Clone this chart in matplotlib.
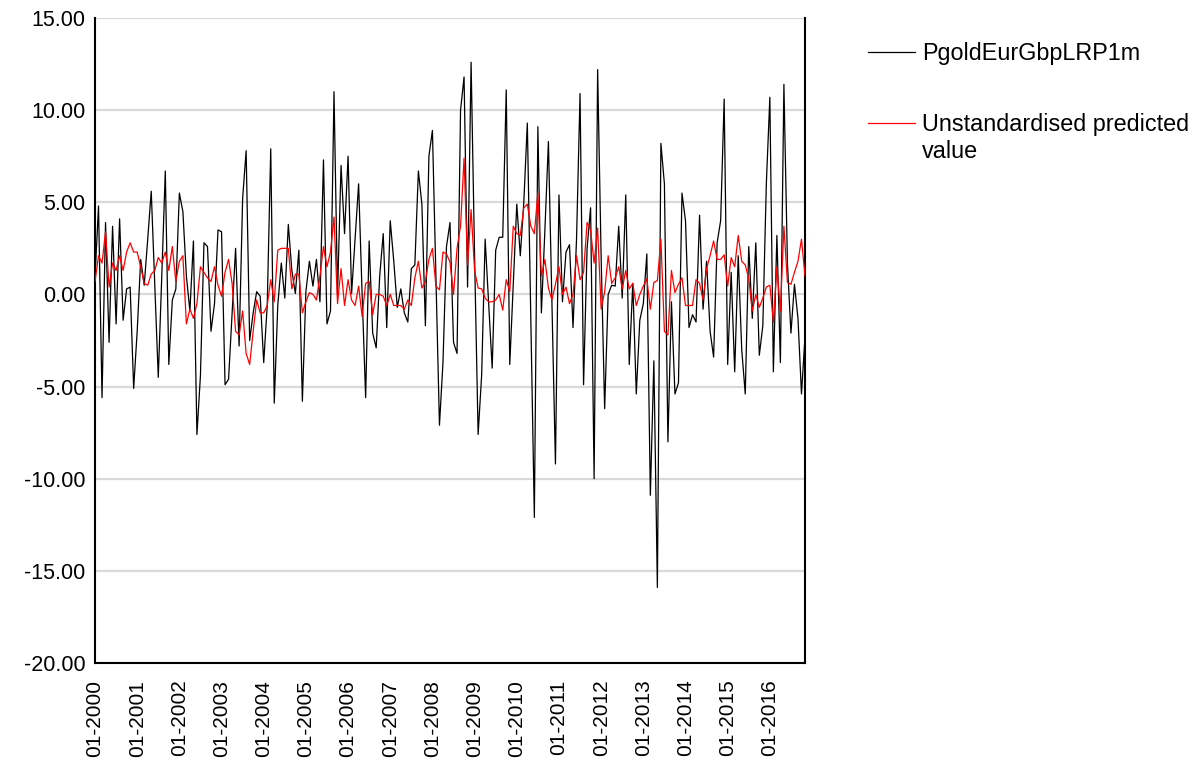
import matplotlib
matplotlib.use("Agg")
import matplotlib.pyplot as plt
from matplotlib.lines import Line2D
import numpy as np

plt.rcParams['font.family'] = ['Liberation Sans', 'DejaVu Sans']

years = list(range(2000, 2017))
tick_labels = [f"01-{y}" for y in years]

actual = [
    0.9, 4.8, -5.6, 3.9, -2.6, 3.7, -1.6, 4.1, -1.4, 0.3,
    0.4, -5.1, -2.0, 1.9, 0.5, 3.0, 5.6, 0.5, -4.5, 1.0,
    6.7, -3.8, -0.3, 0.3, 5.5, 4.5, 1.0, -0.9, 2.9, -7.6,
    -4.4, 2.8, 2.6, -2.0, -0.5, 3.5, 3.4, -4.9, -4.6, -1.0,
    2.5, -2.8, 5.2, 7.8, -2.5, -1.0, 0.15, -0.1, -3.7, -0.6,
    7.9, -5.9, -0.6, 1.7, -0.2, 3.8, 1.3, 0.05, 2.4, -5.8,
    0.15, 1.8, 0.45, 1.9, -0.4, 7.3, -1.6, -0.9, 11.0, 0.0,
    7.0, 3.3, 7.5, 0.05, 3.0, 6.0, 0.0, -5.6, 2.9, -2.1,
    -2.9, 1.0, 3.3, -1.8, 4.0, 1.8, -0.7, 0.3, -1.0, -1.5,
    1.4, 1.6, 6.7, 4.9, -1.7, 7.5, 8.9, 1.0, -7.1, -3.7,
    2.6, 3.9, -2.6, -3.2, 10.0, 11.8, 0.4, 12.6, 2.0, -7.6,
    -4.4, 3.0, -0.5, -4.0, 2.4, 3.1, 3.1, 11.1, -3.8, 0.5,
    4.9, 2.1, 5.0, 9.3, -1.5, -12.1, 9.1, -1.0, 3.5, 8.3,
    -0.5, -9.2, 5.4, -0.4, 2.3, 2.7, -1.8, 3.0, 10.9, -4.9,
    2.5, 4.7, -10.0, 12.2, 2.0, -6.2, 0.0, 0.5, 0.45, 3.7,
    -0.2, 5.4, -3.8, 0.6, -5.4, -1.4, -0.5, 2.2, -10.9, -3.6,
    -15.9, 8.2, 6.0, -8.0, -0.4, -5.4, -4.8, 5.5, 4.0, -1.8,
    -1.1, -1.5, 4.3, -0.8, 1.8, -2.0, -3.4, 2.8, 4.0, 10.6,
    -3.8, 1.2, -4.2, 2.1, -3.0, -5.4, 2.6, -1.3, 2.8, -3.3,
    -1.7, 6.0, 10.7, -4.2, 3.2, -3.7, 11.4, 1.7, -2.1, 0.55,
    -1.3, -5.4, -2.3,
]

predicted = [
    0.7, 2.1, 1.7, 3.4, 0.4, 1.7, 1.3, 2.1, 1.3, 2.3,
    2.8, 2.3, 2.3, 1.5, 0.6, 0.5, 1.1, 1.3, 2.0, 1.7,
    2.3, 1.3, 2.6, 0.7, 1.8, 2.1, -1.6, -0.8, -1.3, -0.5,
    1.5, 1.2, 0.9, 0.7, 1.5, 0.5, -0.1, 1.2, 1.9, 0.6,
    -2.0, -2.2, -0.9, -3.2, -3.8, -2.0, -0.3, -1.0, -1.0, -0.6,
    0.8, -0.4, 2.4, 2.5, 2.5, 2.5, 0.3, 1.1, 1.1, -1.0,
    -0.4, 0.1, 0.0, -0.3, 1.0, 2.6, 1.5, 2.3, 4.2, -0.5,
    1.4, -0.6, 0.8, -0.3, -0.6, 0.45, -1.2, 0.6, 0.7, -1.1,
    0.0, 0.0, -0.1, -0.6, 0.0, -0.6, -0.6, -0.6, -0.8, -0.3,
    -0.6, 0.9, 1.8, 0.35, 0.7, 1.9, 2.5, 0.45, 0.25, 2.3,
    2.2, 1.75, 0.0, 2.5, 3.7, 7.4, 1.6, 4.6, 1.3, 0.35,
    0.3, -0.2, -0.4, -0.4, -0.3, 0.0, -0.85, 0.8, 0.15, 3.7,
    3.3, 3.2, 4.7, 4.9, 3.7, 3.3, 5.5, 1.0, 1.9, 0.35,
    -0.3, 0.55, 1.5, 0.0, 0.4, -0.5, 0.0, 2.1, 0.8, 1.2,
    3.9, 3.5, 1.7, 3.6, -0.8, 0.15, 2.1, 0.6, 0.9, 1.5,
    0.3, 1.3, 0.3, 0.6, -0.6, 0.0, 0.45, 0.85, -0.8, 0.65,
    0.75, 3.0, -2.0, -2.2, 1.3, 0.1, 0.55, 0.9, -0.6, -0.6,
    -0.6, 0.8, 0.6, -0.3, 1.4, 2.1, 2.9, 1.9, 1.9, 2.15,
    0.45, 2.0, 1.5, 3.2, 1.8, 1.6, 0.85, -0.9, 0.0, -0.7,
    -0.2, 0.4, 0.5, -1.5, 1.5, -0.9, 3.7, 0.65, 0.55, 1.2,
    1.8, 3.0, 1.0,
]

series_names = ["PgoldEurGbpLRP1m", "Unstandardised predicted\nvalue"]
series_colors = ["black", "#ff0000"]

W, H = 1195, 767
n = len(actual)
x = np.arange(n)

fig = plt.figure(figsize=(W / 100, H / 100), dpi=100)
ax = fig.add_axes([95 / W, 1 - 663 / H, 710 / W, 645 / H])

yticks = np.arange(-20, 16, 5)
for yv in yticks:
    ax.axhline(yv, color='#d9d9d9', lw=1.6, zorder=0)

ax.plot(x, actual, color=series_colors[0], lw=0.9, zorder=3)
ax.plot(x, predicted, color=series_colors[1], lw=0.9, zorder=4)

ax.set_xlim(0, n - 1)
ax.set_ylim(-20, 15)
ax.set_yticks(yticks)
ax.set_yticklabels([f"{v:.2f}" for v in yticks], fontsize=15.5)

tick_pos = [12 * k for k in range(len(years))]
ax.set_xticks(tick_pos)
ax.set_xticklabels(tick_labels, rotation=90, fontsize=15)
ax.tick_params(axis='x', length=0, pad=12)
ax.tick_params(axis='y', length=0, pad=7)

for s in ['left', 'bottom', 'right']:
    ax.spines[s].set_color('black')
    ax.spines[s].set_linewidth(1.5)
ax.spines['top'].set_visible(False)

# legend drawn manually (handle aligned with first text line)
legend_rows_px = [52, 123]
for name, col, ypx in zip(series_names, series_colors, legend_rows_px):
    yf = 1 - ypx / H
    fig.add_artist(Line2D([868 / W, 915 / W], [yf, yf], color=col, lw=0.9,
                          transform=fig.transFigure))
    fig.text(922 / W, 1 - (ypx - 10) / H, name, fontsize=16.8, va='top',
             ha='left', linespacing=1.25)

fig.savefig("out.png", dpi=100)
